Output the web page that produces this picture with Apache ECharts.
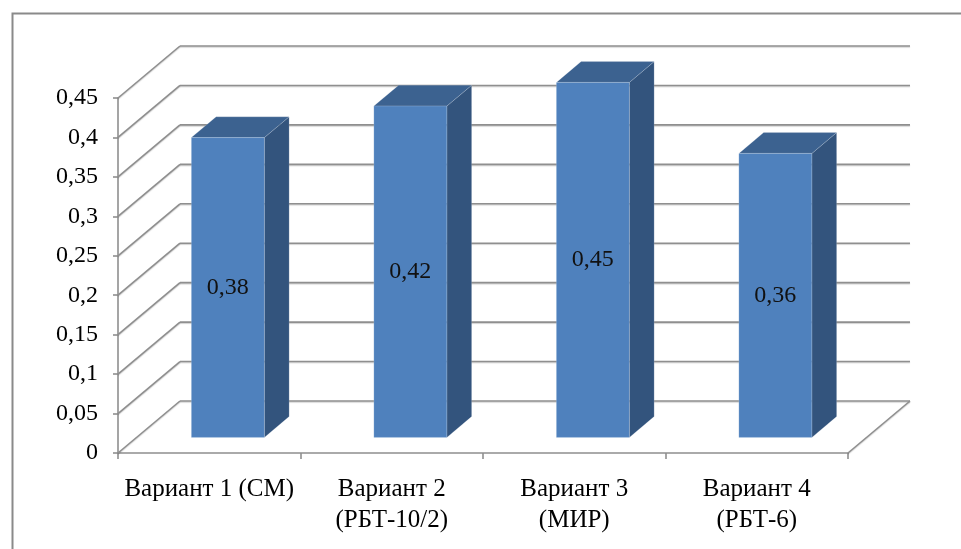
<!DOCTYPE html>
<html>
<head>
<meta charset="utf-8">
<script src="https://cdn.jsdelivr.net/npm/echarts@6/dist/echarts.min.js"></script>
<style>
  html, body { margin: 0; padding: 0; background: #fff; }
  #chart { width: 961px; height: 549px; }
</style>
</head>
<body>
<div id="chart"></div>
<script>
// Chart data
const categories = ['Вариант 1 (СМ)', 'Вариант 2\n(РБТ-10/2)', 'Вариант 3\n(МИР)', 'Вариант 4\n(РБТ-6)'];
const values = [0.38, 0.42, 0.45, 0.36];
const gridValues = [0, 0.05, 0.1, 0.15, 0.2, 0.25, 0.3, 0.35, 0.4, 0.45];

// Oblique projection of the depth axis (pixels for the full depth of the box)
const DEPTH_X = 62;
const DEPTH_Y = -52;
// Bar depth span as fractions of the box depth
const BAR_FRONT = 0.3;
const BAR_BACK = 0.7;
const BAR_WIDTH = 0.4; // share of a category band

const FONT = '"Liberation Serif", "Times New Roman", serif';
const GRID_COLOR = '#8f8f8f';

function fmt(v) {
  return String(Number(v.toFixed(2))).replace('.', ',');
}

const chart = echarts.init(document.getElementById('chart'), null, { renderer: 'canvas' });

const gridLineStyle = {
  stroke: GRID_COLOR,
  lineWidth: 1.6,
  shadowColor: 'rgba(0,0,0,0.18)',
  shadowBlur: 1,
  shadowOffsetY: 1
};

function renderWalls(params, api) {
  const cs = params.coordSys;
  const v = api.value(1);
  const y = api.coord([0, v])[1];
  const x0 = cs.x;
  const x1 = cs.x + cs.width;
  const children = [
    { type: 'line', shape: { x1: x0, y1: y, x2: x0 + DEPTH_X, y2: y + DEPTH_Y }, style: gridLineStyle },
    { type: 'line', shape: { x1: x0 + DEPTH_X, y1: y + DEPTH_Y, x2: x1 + DEPTH_X, y2: y + DEPTH_Y }, style: gridLineStyle }
  ];
  if (v === 0) {
    children.push({ type: 'line', shape: { x1: x1, y1: y, x2: x1 + DEPTH_X, y2: y + DEPTH_Y }, style: gridLineStyle });
  }
  return { type: 'group', children: children };
}

function renderBar(params, api) {
  const idx = api.value(0);
  const v = api.value(1);
  const base = api.coord([idx, 0]);
  const top = api.coord([idx, v]);
  const band = api.size([1, 0])[0];
  const w = band * BAR_WIDTH;
  const d = BAR_BACK - BAR_FRONT;
  const fx0 = base[0] - w / 2 + BAR_FRONT * DEPTH_X;
  const fx1 = fx0 + w;
  const fyb = base[1] + BAR_FRONT * DEPTH_Y;
  const fyt = top[1] + BAR_FRONT * DEPTH_Y;
  const ddx = d * DEPTH_X;
  const ddy = d * DEPTH_Y;
  const edge = 'rgba(255,255,255,0.25)';
  return {
    type: 'group',
    children: [
      {
        type: 'polygon',
        shape: { points: [[fx1, fyt], [fx1 + ddx, fyt + ddy], [fx1 + ddx, fyb + ddy], [fx1, fyb]] },
        style: { fill: '#33547d', stroke: edge, lineWidth: 0.6 }
      },
      {
        type: 'polygon',
        shape: { points: [[fx0, fyt], [fx1, fyt], [fx1 + ddx, fyt + ddy], [fx0 + ddx, fyt + ddy]] },
        style: { fill: '#3c6290', stroke: edge, lineWidth: 0.6 }
      },
      {
        type: 'rect',
        shape: { x: fx0, y: fyt, width: w, height: fyb - fyt },
        style: { fill: '#4f81bd', stroke: edge, lineWidth: 0.6 }
      },
      {
        type: 'text',
        style: {
          text: fmt(v),
          x: (fx0 + fx1) / 2,
          y: (fyt + fyb) / 2,
          align: 'center',
          verticalAlign: 'middle',
          textAlign: 'center',
          textVerticalAlign: 'middle',
          font: '24px ' + FONT,
          fill: '#111'
        }
      }
    ]
  };
}

const option = {
  backgroundColor: '#ffffff',
  animation: false,
  graphic: [
    {
      type: 'rect',
      left: 10,
      top: 11,
      shape: { width: 1000, height: 600 },
      style: { fill: 'none', stroke: '#8a8a8a', lineWidth: 2 },
      z: 0
    }
  ],
  grid: { left: 118, right: 113, top: 98, bottom: 96, containLabel: false },
  xAxis: {
    type: 'category',
    data: categories,
    boundaryGap: true,
    axisLine: { show: true, lineStyle: { color: GRID_COLOR, width: 1.6 } },
    axisTick: { show: true, length: 6, alignWithLabel: false, lineStyle: { color: GRID_COLOR, width: 1.6 } },
    axisLabel: {
      margin: 21,
      interval: 0,
      color: '#000',
      fontFamily: FONT,
      fontSize: 25,
      lineHeight: 31
    },
    splitLine: { show: false }
  },
  yAxis: {
    type: 'value',
    min: 0,
    max: 0.45,
    interval: 0.05,
    axisLine: { show: true, lineStyle: { color: GRID_COLOR, width: 1.6 } },
    axisTick: { show: true, length: 5, lineStyle: { color: GRID_COLOR, width: 1.6 } },
    axisLabel: {
      margin: 20,
      color: '#000',
      fontFamily: FONT,
      fontSize: 24,
      formatter: fmt
    },
    splitLine: { show: false }
  },
  series: [
    {
      type: 'custom',
      name: 'walls',
      renderItem: renderWalls,
      data: gridValues.map(v => [0, v]),
      clip: false,
      silent: true,
      z: 1
    },
    {
      type: 'custom',
      name: 'bars',
      renderItem: renderBar,
      data: values.map((v, i) => [i, v]),
      clip: false,
      z: 5
    }
  ]
};

chart.setOption(option);
</script>
</body>
</html>
